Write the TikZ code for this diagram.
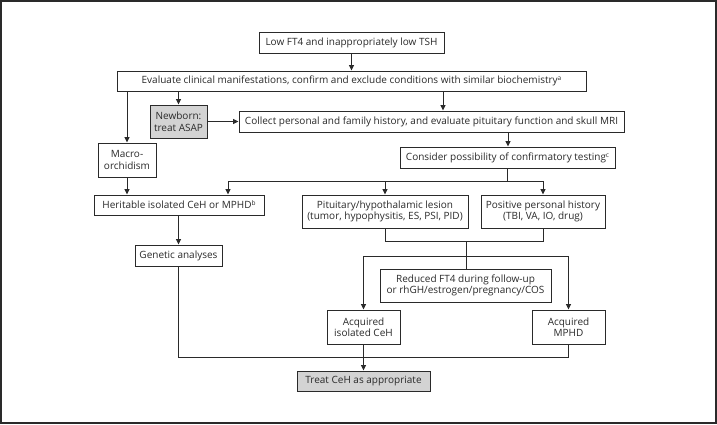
\documentclass[tikz,border=0pt]{standalone}
\usepackage{fontspec}
\setmainfont{Open Sans}
\usetikzlibrary{arrows.meta}
\definecolor{ln}{HTML}{2A2A2A}
\definecolor{gf}{HTML}{D3D3D3}
\newcommand{\sups}[1]{\raisebox{0.55ex}{\fontsize{6.5}{6.5}\selectfont #1}}
\tikzset{
  bx/.style={draw=ln, line width=1pt, fill=white, inner sep=0pt, align=center,
    font=\fontsize{10}{11.5}\selectfont, text=ln},
  gbx/.style={bx, fill=gf},
  con/.style={draw=ln, line width=1pt},
  arr/.style={con, -{Triangle[length=5.5pt,width=5pt]}},
}
\newcommand{\bxat}[6]{\node[#1, minimum width=#4pt, minimum height=#5pt] (#2) at (#3) {#6};}
\begin{document}
\begin{tikzpicture}[x=1pt,y=-1pt]
\useasboundingbox (0,0) rectangle (717,424);
\draw[ln, line width=1.3pt] (1,1) rectangle (716,423);
\bxat{bx}{b1}{351.5,42.5}{185}{21}{Low FT4 and inappropriately low TSH}
\bxat{bx}{b2}{351.5,81}{469}{20}{Evaluate clinical manifestations, confirm and exclude conditions with similar biochemistry\sups{a}}
\bxat{gbx}{nb}{178.5,121.5}{57}{33}{Newborn:\\treat ASAP}
\bxat{bx}{col}{431.5,121.5}{385}{21}{Collect personal and family history, and evaluate pituitary function and skull MRI}
\bxat{bx}{mac}{127,160}{58}{34}{Macro-\\orchidism}
\bxat{bx}{con}{507.5,157.5}{215}{21}{Consider possibility of confirmatory testing\sups{c}}
\bxat{bx}{her}{179,205}{170}{20}{Heritable isolated CeH or MPHD\sups{b}}
\bxat{bx}{pit}{385,211.5}{166}{33}{Pituitary/hypothalamic lesion\\(tumor, hypophysitis, ES, PSI, PID)}
\bxat{bx}{pos}{543,211.5}{124}{33}{Positive personal history\\(TBI, VA, IO, drug)}
\bxat{bx}{gen}{178.5,255.5}{87}{21}{Genetic analyses}
\bxat{bx}{red}{465.5,285.5}{171}{33}{Reduced FT4 during follow-up\\or rhGH/estrogen/pregnancy/COS}
\bxat{bx}{aiso}{363.5,327}{73}{34}{Acquired\\isolated CeH}
\bxat{bx}{amp}{568.5,327}{73}{34}{Acquired\\MPHD}
\bxat{gbx}{trt}{363.5,381}{133}{20}{Treat CeH as appropriate}
% coordinates
\coordinate (sp) at (507.5,181);
\coordinate (spL) at (228,181);
\coordinate (spR) at (543,181);
\coordinate (pj) at (385,241);
\coordinate (qj) at (543,241);
\coordinate (mj) at (466,241);
\coordinate (hL) at (363.5,256);
\coordinate (hR) at (568.5,256);
\coordinate (gj) at (178.5,357);
\coordinate (bj) at (568.5,357);
\coordinate (tj) at (363.5,357);
\coordinate (c443) at (443,91);
\coordinate (c508) at (508,132);
% connectors
\draw[arr] (b1) -- (b2);
\draw[arr] (b2.south -| mac) -- (mac);
\draw[arr] (b2.south -| nb) -- (nb);
\draw[arr] (c443) -- (col.north -| c443);
\draw[arr] (nb) -- (col);
\draw[arr] (c508) -- (con.north -| c508);
\draw[con] (con) -- (sp);
\draw[con] (spL) -- (spR);
\draw[arr] (spL) -- (her.north -| spL);
\draw[arr] (sp -| pit) -- (pit);
\draw[arr] (spR) -- (pos);
\draw[arr] (mac) -- (her.north -| mac);
\draw[arr] (her.south -| gen) -- (gen);
\draw[con] (pit) -- (pj) -- (qj) -- (pos);
\draw[con] (mj) -- (red.north -| mj);
\draw[con] (hL) -- (hR);
\draw[arr] (hL) -- (aiso);
\draw[arr] (hR) -- (amp);
\draw[con] (gen) -- (gj) -- (tj);
\draw[con] (amp) -- (bj) -- (tj);
\draw[arr] (aiso) -- (trt);
\end{tikzpicture}
\end{document}
